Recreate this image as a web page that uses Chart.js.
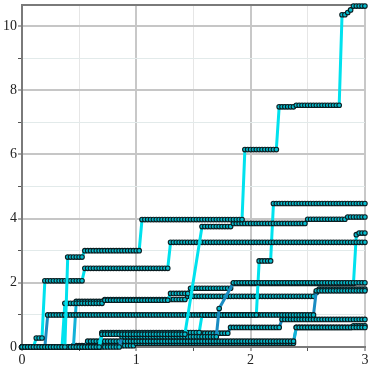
<!DOCTYPE html>
<html>
<head>
<meta charset="utf-8">
<script src="https://cdn.jsdelivr.net/npm/chart.js@4.4.0/dist/chart.umd.min.js"></script>
<style>
    html, body { margin: 0; padding: 0; background: #fff; }
</style>
</head>
<body>
<canvas id="myChart" width="370" height="370"></canvas>
<script>
// tick labels
var xLabels = [0, 1, 2, 3];
var yLabels = [0, 2, 4, 6, 8, 10];

// each series: [x where the level starts, level] (null = no marker, line runs through)
var seriesA = [[0, 0], [0.4, 2.8], [0.55, 3.0], [1.05, 3.97], [1.95, 6.15], [2.25, 7.48], [2.4, 7.53], [2.8, 10.35], [2.85, 10.42], [2.875, 10.5], [2.9, 10.62]];
var seriesB = [[0, 0], [0.7, 0.4], [1.45, null], [1.575, 3.75], [1.85, 3.85], [2.5, 3.98], [2.85, 4.05]];
var seriesC = [[0, 0], [0.125, 0.28], [0.2, 2.06], [0.55, 2.45], [1.3, 3.26]];
var seriesD = [[0, 0], [0.875, 0.32], [1.725, 1.2], [1.75, null], [1.85, 2.0]];
var seriesE = [[0, 0], [0.7, 0.45], [1.575, 1.0], [2.075, 2.68], [2.2, 4.47]];
var seriesF = [[0, 0], [0.225, 1.0], [2.575, 1.75]];
var seriesG = [[0, 0], [0.375, 1.36], [0.725, 1.46], [1.3, 1.67], [1.475, 1.83], [1.85, 1.98], [2.925, 3.5], [2.95, 3.55]];
var seriesH = [[0, 0], [0.475, 1.42], [0.725, 1.48], [1.45, 1.58], [2.575, 1.7], [2.6, 1.8]];
var seriesJ = [[0, 0], [0.7, 0.43], [1.825, 0.61], [2.275, 0.86]];
var seriesK = [[0, 0], [0.575, 0.18], [2.4, 0.61]];
var seriesM = [[0, 0], [0.45, 0.04], [1.0, 0.12], [2.4, 0.61], [2.9, 0.66]];

var allSeries = [seriesA, seriesB, seriesC, seriesD, seriesE, seriesF, seriesG, seriesH, seriesJ, seriesK, seriesM];

var xStep = 0.025;
var xMax = 3;
var yMax = 10.65;

// hold each level until the next one starts, one sample per xStep
function buildSeries(runs) {
    var pts = [];
    var n = Math.round(xMax / xStep);
    for (var i = 0; i <= n; i++) {
        var x = i * xStep;
        var y = runs[0][1];
        for (var j = 0; j < runs.length; j++) {
            if (runs[j][0] <= x + 1e-9) y = runs[j][1];
        }
        pts.push({ x: x, y: y });
    }
    return pts;
}

// line colours, same order as allSeries
var cyan = '#00e2ee';
var darkBlue = '#1a8cc2';
var midBlue = '#12b2d8';
var lineColors = [cyan, cyan, cyan, darkBlue, cyan, darkBlue, cyan, midBlue, darkBlue, midBlue, midBlue];

var datasets = allSeries.map(function (runs, i) {
    return {
        data: buildSeries(runs),
        borderColor: lineColors[i],
        borderWidth: 3,
        pointRadius: 2.3,
        pointBorderWidth: 1.1,
        pointBackgroundColor: '#05bccd',
        pointBorderColor: '#0b1e22',
        spanGaps: true,
        clip: 4
    };
});

var tickFont = { family: "'Liberation Serif', 'DejaVu Serif', serif", size: 14 };

// no extra room for the end labels, plot box is set by layout padding only
function fitX(scale) {
    scale.height = 23;
    scale.paddingLeft = 0;
    scale.paddingRight = 0;
}
function fitY(scale) {
    scale.width = 22;
    scale.paddingTop = 0;
    scale.paddingBottom = 0;
}

var ctx = document.getElementById("myChart").getContext('2d');
var myChart = new Chart(ctx, {
    type: 'line',
    data: { datasets: datasets },
    options: {
        responsive: false,
        animation: false,
        layout: { padding: { top: 5, right: 2, left: 0, bottom: 0 } },
        plugins: { legend: { display: false }, tooltip: { enabled: false } },
        scales: {
            x: {
                type: 'linear',
                min: 0,
                max: xMax,
                afterFit: fitX,
                ticks: {
                    stepSize: 0.5,
                    autoSkip: false,
                    maxRotation: 0,
                    padding: 1,
                    color: '#222',
                    font: tickFont,
                    callback: function (v) { return xLabels.indexOf(v) >= 0 ? v : ''; }
                },
                grid: {
                    tickLength: 4,
                    color: function (c) { return Number.isInteger(c.tick.value) ? '#c8c8c8' : '#e6e6e6'; },
                    lineWidth: function (c) { return Number.isInteger(c.tick.value) ? 2 : 1; },
                    tickColor: '#555',
                    tickWidth: 1
                },
                border: { color: '#7a7a7a', width: 2 }
            },
            y: {
                min: 0,
                max: yMax,
                afterFit: fitY,
                ticks: {
                    stepSize: 1,
                    autoSkip: false,
                    padding: 1,
                    color: '#222',
                    font: tickFont,
                    callback: function (v) { return yLabels.indexOf(v) >= 0 ? v : ''; }
                },
                grid: {
                    tickLength: 4,
                    color: function (c) {
                        var v = c.tick.value;
                        if (!Number.isInteger(v)) return '#7a7a7a';
                        return v % 2 === 0 ? '#c6c6c6' : '#e2eaea';
                    },
                    lineWidth: function (c) {
                        var v = c.tick.value;
                        if (!Number.isInteger(v)) return 2;
                        return v % 2 === 0 ? 2 : 1;
                    },
                    tickColor: function (c) { return Number.isInteger(c.tick.value) ? '#555' : 'rgba(0,0,0,0)'; },
                    tickWidth: 1
                },
                border: { color: '#7a7a7a', width: 2 }
            }
        }
    }
});
</script>
</body>
</html>
